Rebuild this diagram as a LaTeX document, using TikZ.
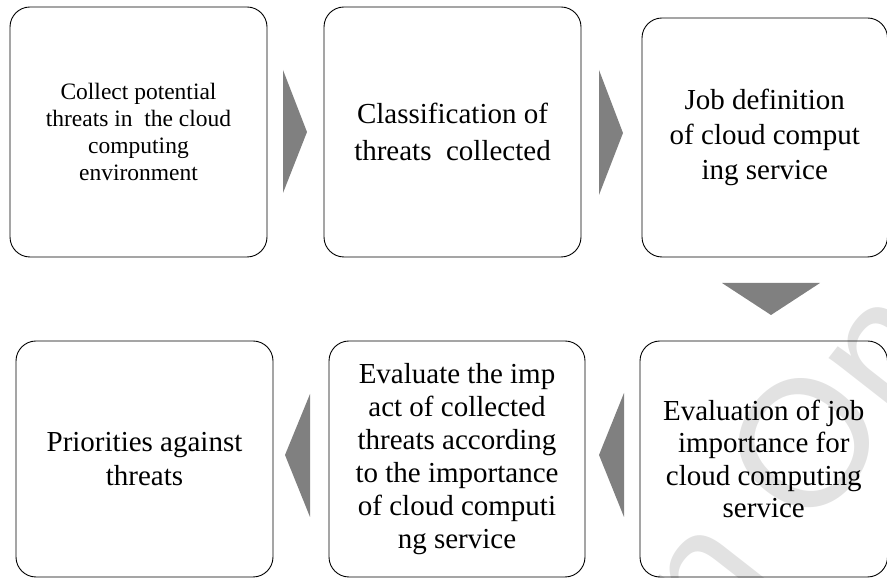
\documentclass[tikz,border=0pt]{standalone}
\usepackage{fontspec}
\setmainfont{Liberation Serif}
\newfontfamily\wmfont{Liberation Sans}
\definecolor{arrgray}{HTML}{808080}
\definecolor{wmgray}{HTML}{E2E2E2}
\begin{document}
\begin{tikzpicture}[x=1pt,y=1pt,
  box/.style={draw=black, line width=0.9pt, rounded corners=20pt, align=center,
              inner sep=0pt, font=\fontsize{29}{34}\selectfont},
  chev/.style={fill=arrgray, draw=none},
  wm/.style={text=wmgray, inner sep=0pt, rotate=52, font=\wmfont\fontsize{180}{180}\selectfont}]
\useasboundingbox (0,0) rectangle (887,578);
% faint watermark
\begin{scope}
  \clip (0,0) rectangle (887,578);
  \node[wm] (mark) at (805,135) {\llap{n }O\rlap{n}};
\end{scope}
% boxes
\node[box, minimum width=257pt, minimum height=250pt, font=\fontsize{23.5}{27}\selectfont]
  (b1) at (138.5,446) {Collect potential\\threats in\ \ the cloud\\computing\\environment};
\node[box, minimum width=257pt, minimum height=250pt, font=\fontsize{29}{37}\selectfont]
  (b2) at (452.5,446) {Classification of\\threats\ \ collected};
\node[box, minimum width=245.5pt, minimum height=239pt, font=\fontsize{29}{35}\selectfont]
  (b3) at (764.75,440.5) {Job definition\\of cloud comput\\ing service};
\node[box, minimum width=247.5pt, minimum height=236pt, font=\fontsize{29}{32.5}\selectfont]
  (b6) at (763.75,119) {Evaluation of job\\importance for\\cloud computing\\service};
\node[box, minimum width=256pt, minimum height=236pt, font=\fontsize{29}{33}\selectfont]
  (b5) at (457,119) {Evaluate the imp\\act of collected\\threats according\\to the importance\\of cloud computi\\ng service};
\node[box, minimum width=257pt, minimum height=236pt, font=\fontsize{29}{34}\selectfont]
  (b4) at (144.5,119) {Priorities against\\threats};
% chevron arrows
\fill[chev] (283,508) -- (307,446) -- (283,385) -- cycle;
\fill[chev] (599,508) -- (623,445) -- (599,383) -- cycle;
\fill[chev] (722,295) -- (820,295) -- (771,263) -- cycle;
\fill[chev] (624,185) -- (599,123) -- (624,61) -- cycle;
\fill[chev] (310,184) -- (285,123) -- (310,61) -- cycle;
\end{tikzpicture}
\end{document}
